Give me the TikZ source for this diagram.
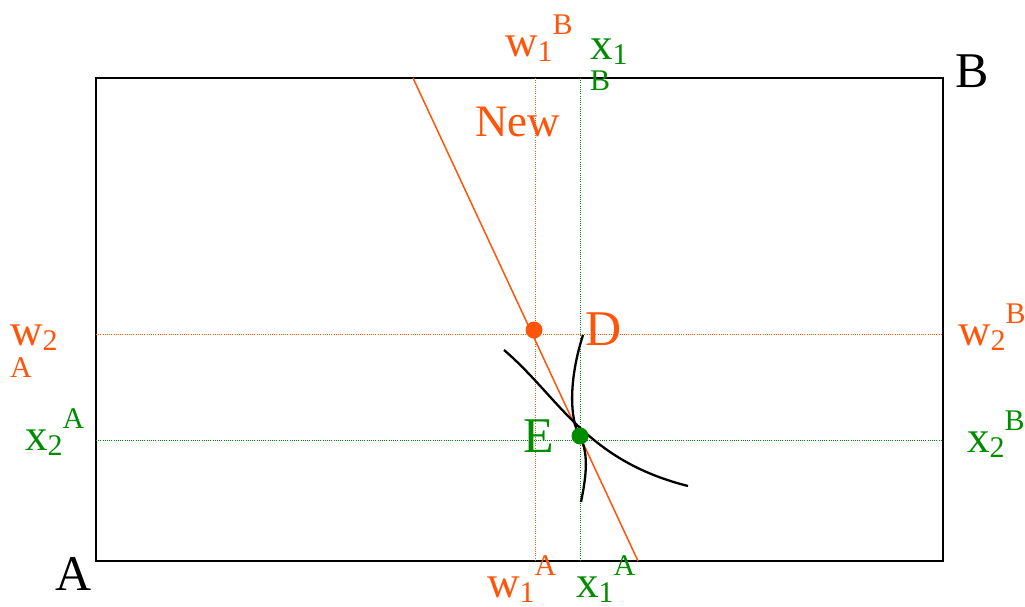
\documentclass[tikz,border=0pt]{standalone}
\usepackage{fontspec}
\setmainfont{Liberation Serif}
\usepackage{tikz}
\usetikzlibrary{positioning}
\definecolor{wred}{RGB}{255,85,10}
\definecolor{xgreen}{RGB}{0,140,0}
\newcommand{\sublbl}[1]{\raisebox{-5pt}{\fontsize{30}{30}\selectfont #1}}
\newcommand{\suplbl}[1]{\raisebox{22pt}{\fontsize{30}{30}\selectfont #1}}
\newcommand{\underlbl}[2]{\rlap{\raisebox{#1}{\fontsize{30}{30}\selectfont #2}}}

\begin{document}
\begin{tikzpicture}[
  x=1pt, y=-1pt,
  lbl/.style={inner sep=0pt, anchor=base west, font=\fontsize{45}{50}\selectfont},
  biglbl/.style={lbl, font=\fontsize{50}{55}\selectfont},
  wlbl/.style={lbl, text=wred},
  xlbl/.style={lbl, text=xgreen},
  wguide/.style={wred, line width=0.9pt, dash pattern=on 1pt off 1.2pt},
  xguide/.style={xgreen, line width=0.9pt, dash pattern=on 1pt off 1.2pt},
  curve/.style={black, line width=2.3pt},
  dot/.style={circle, fill, inner sep=0pt, minimum size=17pt}
]
\useasboundingbox (0,0) rectangle (1025,607);

% box corners
\coordinate (oA) at (96,561);
\coordinate (oB) at (943,78);
\draw[line width=2.5pt] (oA) rectangle (oB);

% guide lines
\coordinate (w1top) at (535,78);
\coordinate (w1bot) at (535,561);
\coordinate (x1top) at (580,78);
\coordinate (x1bot) at (580,561);
\coordinate (w2l) at (96,334);
\coordinate (w2r) at (943,334);
\coordinate (x2l) at (96,440);
\coordinate (x2r) at (943,440);
\draw[wguide] (w1top) -- (w1bot);
\draw[wguide] (w2l) -- (w2r);
\draw[xguide] (x1top) -- (x1bot);
\draw[xguide] (x2l) -- (x2r);

% budget line
\coordinate (ltop) at (413,78);
\coordinate (lbot) at (638,561);
\draw[wred, line width=1.5pt] (ltop) -- (lbot);

% indifference curves
\coordinate (ia) at (504,350);
\coordinate (ib) at (688,486);
\coordinate (ja) at (583,335);
\coordinate (jm) at (580,437);
\coordinate (jb) at (581,502);
\draw[curve] (ia) .. controls (560,398) and (585,460) .. (ib);
\draw[curve] (ja) .. controls (568,382) and (570,420) .. (jm)
  .. controls (590,455) and (585,482) .. (jb);

% points
\node[dot, fill=wred] (ptD) at (534,330) {};
\node[dot, fill=xgreen] (ptE) at (580,436) {};

% labels
\node[biglbl] (labA) at (55,590) {A};
\node[biglbl] (labB) at (955,88) {B};
\node[biglbl, text=wred] (labD) at (585,345) {D};
\node[biglbl, text=xgreen] (labE) at (523,452) {E};
\node[wlbl] (labNew) at (475,137) {New};

\node[wlbl] (w1B) at (505,57) {w\sublbl{1}\suplbl{B}};
\node[xlbl] (x1B) at (590,60) {\underlbl{-31pt}{B}x\sublbl{1}};
\node[wlbl] (w2A) at (10,345) {\underlbl{-32pt}{A}w\sublbl{2}};
\node[xlbl] (x2A) at (25,450) {x\sublbl{2}\suplbl{A}};
\node[wlbl] (w2B) at (958,345) {w\sublbl{2}\suplbl{B}};
\node[xlbl] (x2B) at (967,452) {x\sublbl{2}\suplbl{B}};
\node[wlbl] (w1A) at (487,597) {w\sublbl{1}\suplbl{A}};
\node[xlbl] (x1A) at (576,597) {x\sublbl{1}\suplbl{A}};
\end{tikzpicture}
\end{document}
